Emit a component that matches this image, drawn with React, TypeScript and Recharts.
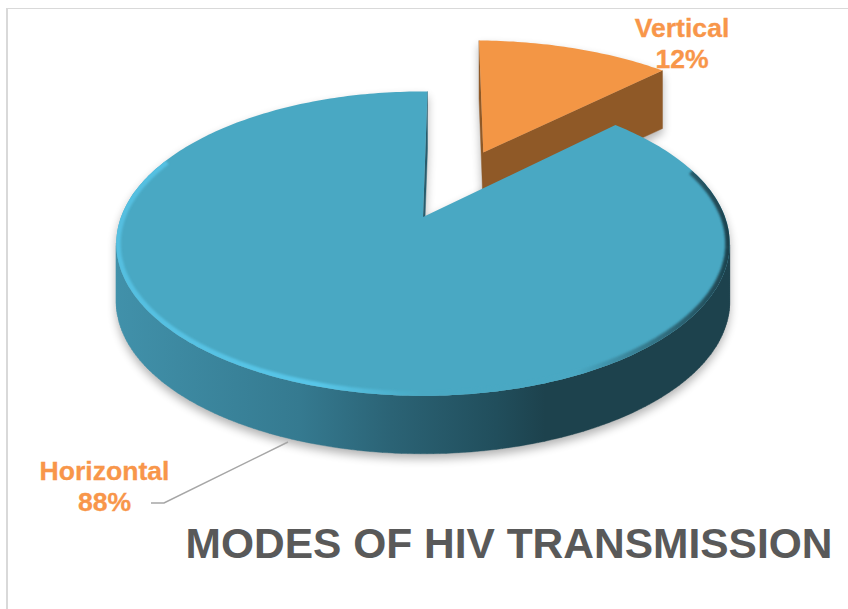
import { PieChart, Pie, Cell } from 'recharts';

// Modes of HIV transmission, drawn as a tilted 3D pie
const sliceNames = ['Vertical', 'Horizontal'];
const sliceValues = [12.4, 87.6];
const explodeAmounts = [0.516, 0];
const explodeNudges = [0.012, 0];
const radiusFactors = [1.04, 1];
const topColors = ['#f39645', '#49a8c3'];
const wallFills = ['#8f5927', 'url(#blueWall)'];

const chartData = sliceNames.map((name, i) => ({ name, value: sliceValues[i] }));

const WIDTH = 848;
const HEIGHT = 609;
const CX = 423;
const CY = 217;
const RX = 302;
const RY = 147.5;
const TILT = 0.175;
const DEPTH = 58;

type Pt = [number, number];

// circle on the table -> screen, with a little perspective
function project(u: number, v: number): Pt {
  const w = 1 - TILT * v;
  return [CX + (RX * u) / w, CY + (RY * v) / w];
}

function outline(props: any): { pts: Pt[]; arc: Pt[] } {
  const { startAngle, endAngle, index } = props;
  const i = index ?? sliceNames.indexOf(props.name);
  const mid = (((startAngle + endAngle) / 2) * Math.PI) / 180;
  const du = Math.cos(mid) * explodeAmounts[i] + explodeNudges[i];
  const dv = -Math.sin(mid) * explodeAmounts[i];
  const r = radiusFactors[i];
  const arc: Pt[] = [];
  const n = Math.ceil(Math.abs(endAngle - startAngle));
  for (let k = 0; k <= n; k++) {
    const a = ((startAngle + ((endAngle - startAngle) * k) / n) * Math.PI) / 180;
    arc.push(project(du + r * Math.cos(a), dv - r * Math.sin(a)));
  }
  return { pts: [project(du, dv), ...arc], arc };
}

const toPath = (pts: Pt[], dy = 0, close = true) =>
  pts.map((p, i) => `${i ? 'L' : 'M'}${p[0].toFixed(1)} ${(p[1] + dy).toFixed(1)}`).join('') + (close ? 'Z' : '');

function wallPath(pts: Pt[], dy = 0) {
  let d = '';
  pts.forEach((p, i) => {
    const q = pts[(i + 1) % pts.length];
    if (q[0] < p[0]) {
      d += toPath([p, q, [q[0], q[1] + DEPTH], [p[0], p[1] + DEPTH]], dy);
    }
  });
  return d;
}

function ShadowShape(props: any) {
  const { pts } = outline(props);
  return (
    <g filter="url(#softShadow)" opacity={0.3}>
      <path d={toPath(pts, 5)} fill="#000" />
      <path d={wallPath(pts, 5)} fill="#000" />
    </g>
  );
}

function SliceShape(props: any) {
  const i = props.index ?? sliceNames.indexOf(props.name);
  const { pts, arc } = outline(props);
  return (
    <g>
      <path d={wallPath(pts)} fill={wallFills[i]} stroke={wallFills[i]} strokeWidth={0.4} />
      <path d={toPath(pts)} fill={topColors[i]} />
      {i === 1 && (
        <>
          <clipPath id="blueTopClip">
            <path d={toPath(pts)} />
          </clipPath>
          <g clipPath="url(#blueTopClip)">
            <path
              d={toPath(arc.slice(25, 250), 0, false)}
              fill="none"
              stroke="url(#blueRim)"
              strokeWidth={9}
              filter="url(#rimBlur)"
            />
          </g>
        </>
      )}
    </g>
  );
}

function renderLabel(props: any) {
  const i = props.index;
  const pct = `${Math.round(sliceValues[i])}%`;
  const style = {
    fontFamily: '"Liberation Sans", Arial, sans-serif',
    fontWeight: 700,
    fontSize: 26.6,
    fill: '#f8964a',
    stroke: '#f8964a',
    strokeWidth: 0.3,
  };
  if (i === 0) {
    return (
      <text x={682} y={37} textAnchor="middle" style={style}>
        <tspan x={682}>{sliceNames[i]}</tspan>
        <tspan x={682} dy={31}>{pct}</tspan>
      </text>
    );
  }
  return (
    <g>
      <polyline points="288,442 164,503 151,503" fill="none" stroke="#a6a6a6" strokeWidth={1.5} />
      <text x={104.5} y={480} textAnchor="middle" style={style}>
        <tspan x={104.5}>{sliceNames[i]}</tspan>
        <tspan x={104.5} dy={31}>{pct}</tspan>
      </text>
    </g>
  );
}

export default function App() {
  return (
    <div style={{ position: 'absolute', left: 0, top: 0, width: WIDTH, height: HEIGHT, background: '#fff', overflow: 'hidden' }}>
      <div
        style={{
          position: 'absolute',
          left: 6,
          top: 8,
          width: WIDTH,
          height: HEIGHT,
          borderLeft: '2px solid #d9d9d9',
          borderTop: '1px solid #d9d9d9',
        }}
      />
      <div style={{ position: 'absolute', left: 0, top: 0 }}>
        <PieChart width={WIDTH} height={HEIGHT} margin={{ top: 0, right: 0, bottom: 0, left: 0 }}>
          <defs>
            <linearGradient id="blueWall" gradientUnits="userSpaceOnUse" x1={115} y1={0} x2={730} y2={0}>
              <stop offset="0" stopColor="#4191aa" />
              <stop offset="0.3" stopColor="#357a90" />
              <stop offset="0.45" stopColor="#2b6375" />
              <stop offset="0.62" stopColor="#214e5c" />
              <stop offset="0.7" stopColor="#1d424d" />
              <stop offset="1" stopColor="#1d424d" />
            </linearGradient>
            <linearGradient id="blueRim" gradientUnits="userSpaceOnUse" x1={115} y1={0} x2={730} y2={0}>
              <stop offset="0" stopColor="#55bfe0" />
              <stop offset="0.33" stopColor="#58c6e8" />
              <stop offset="0.5" stopColor="#49a8c3" />
              <stop offset="0.75" stopColor="#49a8c3" />
              <stop offset="1" stopColor="#1d424d" />
            </linearGradient>
            <filter id="softShadow" x="-10%" y="-10%" width="120%" height="120%">
              <feGaussianBlur stdDeviation="5" />
            </filter>
            <filter id="rimBlur" x="-5%" y="-5%" width="110%" height="110%">
              <feGaussianBlur stdDeviation="1.2" />
            </filter>
          </defs>
          <Pie
            data={chartData}
            dataKey="value"
            nameKey="name"
            cx={CX}
            cy={CY}
            outerRadius={RX}
            startAngle={89}
            endAngle={-271}
            isAnimationActive={false}
            shape={ShadowShape}
            legendType="none"
            tooltipType="none"
          />
          <Pie
            data={chartData}
            dataKey="value"
            nameKey="name"
            cx={CX}
            cy={CY}
            outerRadius={RX}
            startAngle={89}
            endAngle={-271}
            isAnimationActive={false}
            shape={SliceShape}
            label={renderLabel}
            labelLine={false}
          >
            {chartData.map((d, i) => (
              <Cell key={d.name} fill={topColors[i]} />
            ))}
          </Pie>
          <text
            x={185.5}
            y={558}
            style={{ fontFamily: '"Liberation Sans", Arial, sans-serif', fontWeight: 700, fontSize: 42.5, fill: '#595959' }}
          >
            MODES OF HIV TRANSMISSION
          </text>
        </PieChart>
      </div>
    </div>
  );
}
